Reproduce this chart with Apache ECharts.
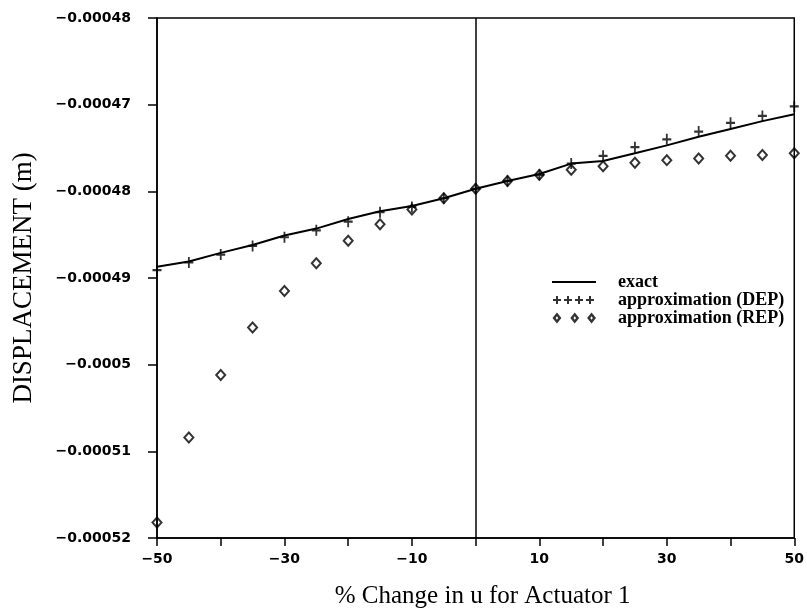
<!DOCTYPE html>
<html>
<head>
<meta charset="utf-8">
<script src="https://cdn.jsdelivr.net/npm/echarts@6/dist/echarts.min.js"></script>
<style>
  html, body { margin: 0; padding: 0; background: #fff; }
  #chart { width: 807px; height: 614px; }
</style>
</head>
<body>
<div id="chart"></div>
<script>
// x positions (% change)
const xValues = [-50, -45, -40, -35, -30, -25, -20, -15, -10, -5, 0, 5, 10, 15, 20, 25, 30, 35, 40, 45, 50];

// exact displacement
const exactValues = [
  -0.0004887, -0.0004881, -0.0004871, -0.0004862, -0.0004851, -0.0004843, -0.0004832,
  -0.0004823, -0.0004817, -0.0004808, -0.0004797, -0.0004788, -0.0004780, -0.0004768,
  -0.0004765, -0.0004756, -0.0004747, -0.0004737, -0.0004728, -0.0004719, -0.0004711
];

// approximation (DEP)
const depValues = [
  -0.0004891, -0.0004882, -0.0004873, -0.0004863, -0.0004853, -0.0004845, -0.0004835,
  -0.0004824, -0.0004818, -0.0004808, -0.0004797, -0.0004788, -0.0004781, -0.0004768,
  -0.0004759, -0.0004749, -0.0004740, -0.0004731, -0.0004721, -0.0004713, -0.0004702
];

// approximation (REP)
const repValues = [
  -0.0005182, -0.0005084, -0.0005012, -0.0004957, -0.0004915, -0.0004883, -0.0004857,
  -0.0004838, -0.0004821, -0.0004808, -0.0004797, -0.0004788, -0.0004781, -0.0004775,
  -0.0004771, -0.0004767, -0.0004764, -0.0004762, -0.0004759, -0.0004758, -0.0004756
];

// tick labels as printed on the figure (bottom to top / left to right)
const yTickLabels = ['−0.00052', '−0.00051', '−0.0005', '−0.00049', '−0.00048', '−0.00047', '−0.00048'];
const xTickLabels = ['−50', '', '−30', '', '−10', '', '10', '', '30', '', '50'];

const Y_MIN = -0.00052, Y_MAX = -0.00046, Y_STEP = 0.00001;
const X_MIN = -50, X_MAX = 50, X_STEP = 10;

const toPairs = vals => xValues.map((x, i) => [x, vals[i]]);

// symbols
const plusPath = 'path://M-1,-5H1V-1H5V1H1V5H-1V1H-5V-1H-1Z';

function legendPlus() {
  // corner dots keep the bounding box 44x12
  let p = 'M0,0h0.05v0.05h-0.05Z M44,12h-0.05v-0.05h0.05Z ';
  [5, 16, 27, 38].forEach(c => {
    p += `M${c - 1},2H${c + 1}V5H${c + 4}V7H${c + 1}V10H${c - 1}V7H${c - 4}V5H${c - 1}Z `;
  });
  return 'path://' + p;
}
function legendDiamonds() {
  let p = 'M0,0h0.05v0.05h-0.05Z M44,12h-0.05v-0.05h0.05Z ';
  [5, 23, 40].forEach(c => {
    p += `M${c},0.5L${c + 4.5},6L${c},11.5L${c - 4.5},6Z M${c},4.3L${c - 1.3},6L${c},7.7L${c + 1.3},6Z `;
  });
  return 'path://' + p;
}
const legendLine = 'path://M0,0h0.05v0.05h-0.05Z M44,12h-0.05v-0.05h0.05Z M0,5H44V7H0Z';

const tickFont = { fontFamily: 'DejaVu Sans', fontWeight: 'bold', fontSize: 14, color: '#000' };

const option = {
  animation: false,
  backgroundColor: '#fff',
  grid: {
    left: 157, right: 11, top: 18, bottom: 76,
    show: true, borderColor: '#000', borderWidth: 1.5
  },
  legend: {
    orient: 'vertical',
    left: 547,
    top: 268,
    itemWidth: 44,
    itemHeight: 12,
    itemGap: 0,
    selectedMode: false,
    textStyle: {
      fontFamily: 'Liberation Serif', fontWeight: 'bold', fontSize: 18, color: '#000',
      padding: [0, 0, 0, 17]
    },
    data: [
      { name: 'exact', icon: legendLine, itemStyle: { color: '#000', borderWidth: 0 }, lineStyle: { width: 0 } },
      { name: 'approximation (DEP)', icon: legendPlus(), itemStyle: { color: '#000', borderWidth: 0 } },
      { name: 'approximation (REP)', icon: legendDiamonds(), itemStyle: { color: '#000', borderWidth: 0 } }
    ]
  },
  xAxis: {
    type: 'value',
    min: X_MIN, max: X_MAX, interval: X_STEP,
    name: '% Change in u for Actuator 1',
    nameLocation: 'middle',
    nameGap: 46,
    nameTextStyle: { fontFamily: 'Liberation Serif', fontSize: 25, color: '#000', padding: [0, 0, 0, 14] },
    axisLine: { onZero: false, lineStyle: { color: '#000', width: 1.5 } },
    axisTick: { show: true, inside: false, length: 8, lineStyle: { color: '#000', width: 1.5 } },
    axisLabel: Object.assign({
      margin: 14,
      formatter: v => xTickLabels[Math.round((v - X_MIN) / X_STEP)] || ''
    }, tickFont),
    splitLine: { show: false }
  },
  yAxis: {
    type: 'value',
    min: Y_MIN, max: Y_MAX, interval: Y_STEP,
    name: 'DISPLACEMENT (m)',
    nameLocation: 'middle',
    nameGap: 120,
    nameTextStyle: { fontFamily: 'Liberation Serif', fontSize: 27, color: '#000' },
    axisLine: { show: true, onZero: false, lineStyle: { color: '#000', width: 1.5 } },
    axisTick: { show: true, inside: false, length: 9, lineStyle: { color: '#000', width: 1.5 } },
    axisLabel: Object.assign({
      margin: 26,
      formatter: v => yTickLabels[Math.round((v - Y_MIN) / Y_STEP)] || ''
    }, tickFont),
    splitLine: { show: false }
  },
  series: [
    {
      name: 'exact',
      type: 'line',
      data: toPairs(exactValues),
      symbol: 'none',
      color: '#000',
      lineStyle: { color: '#000', width: 2 },
      markLine: {
        silent: true,
        symbol: 'none',
        label: { show: false },
        lineStyle: { color: '#000', width: 1.5, type: 'solid' },
        data: [{ xAxis: 0 }]
      },
      z: 2
    },
    {
      name: 'approximation (DEP)',
      type: 'scatter',
      data: toPairs(depValues),
      symbol: plusPath,
      symbolSize: [9, 11],
      clip: false,
      itemStyle: { color: '#000' },
      z: 3
    },
    {
      name: 'approximation (REP)',
      type: 'scatter',
      data: toPairs(repValues),
      symbol: 'diamond',
      symbolSize: [9, 10],
      clip: false,
      itemStyle: { color: 'rgba(0,0,0,0)', borderColor: '#000', borderWidth: 2 },
      z: 4
    }
  ]
};

const myChart = echarts.init(document.getElementById('chart'));
myChart.setOption(option);
</script>
</body>
</html>
